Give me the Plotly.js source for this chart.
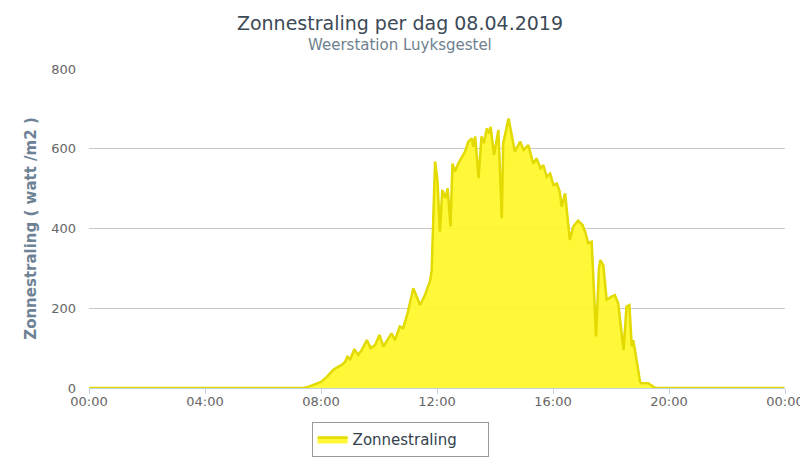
<!DOCTYPE html>
<html>
<head>
<meta charset="utf-8">
<script src="https://cdn.plot.ly/plotly-3.0.1.min.js"></script>
<style>
  body { margin: 0; background: #fff; }
  #plot { width: 800px; height: 475px; }
</style>
</head>
<body>
<div id="plot"></div>
<script>
const day = "2019-04-08"

// Tijdstippen en zonnestraling (watt/m2)
const times = ["00:00", "07:24", "07:36", "07:51", "08:00", "08:12", "08:25", "08:35", "08:43", "08:50",
    "08:55", "09:00", "09:09", "09:17", "09:24", "09:35", "09:43", "09:52", "10:01", "10:09",
    "10:17", "10:26", "10:33", "10:43", "10:50", "10:59", "11:11", "11:25", "11:35", "11:46",
    "11:49", "11:52", "11:56", "12:01", "12:06", "12:11", "12:17", "12:22", "12:28", "12:32",
    "12:37", "12:44", "12:51", "12:58", "13:05", "13:12", "13:15", "13:19", "13:26", "13:32",
    "13:37", "13:43", "13:48", "13:51", "13:58", "14:07", "14:14", "14:17", "14:28", "14:34",
    "14:41", "14:52", "14:59", "15:09", "15:19", "15:26", "15:34", "15:40", "15:47", "15:54",
    "16:01", "16:08", "16:14", "16:18", "16:25", "16:35", "16:42", "16:52", "17:01", "17:07",
    "17:13", "17:20", "17:27", "17:29", "17:35", "17:38", "17:44", "17:51", "18:01", "18:08",
    "18:15", "18:26", "18:32", "18:38", "18:43", "18:46", "18:53", "19:00", "19:03", "19:17",
    "19:28", "19:33", "23:59"]

const radiation = [0, 0, 4, 10, 15, 28, 45, 53, 58, 66,
    80, 70, 97, 83, 95, 120, 100, 108, 133, 104,
    120, 137, 120, 154, 150, 187, 250, 208, 233, 270,
    295, 420, 568, 520, 392, 497, 476, 501, 405, 563,
    543, 563, 580, 593, 618, 626, 605, 631, 526, 631,
    614, 651, 639, 655, 584, 647, 426, 614, 676, 640,
    593, 618, 597, 609, 563, 576, 551, 559, 530, 538,
    509, 513, 492, 455, 488, 371, 405, 420, 409, 390,
    363, 367, 204, 129, 300, 321, 308, 221, 229, 233,
    212, 95, 204, 208, 104, 120, 70, 16, 12, 12,
    3, 0, 0]

const yTicks = [0, 200, 400, 600, 800]

const font_family = '"DejaVu Sans", "Noto Sans", sans-serif'

const x = times.map(t => day + " " + t)

const data = [{
    type: "scatter",
    mode: "lines",
    name: "Zonnestraling",
    x: x,
    y: radiation,
    fill: "tozeroy",
    fillcolor: "rgba(255,247,40,0.92)",
    line: { color: "#e2da00", width: 2.5 },
    hoverinfo: "x+y"
}]

const layout = {
    width: 800,
    height: 475,
    paper_bgcolor: "#ffffff",
    plot_bgcolor: "#ffffff",
    font: { family: font_family, color: "#666666", size: 13 },
    title: {
        text: "Zonnestraling per dag 08.04.2019",
        font: { family: font_family, size: 19, color: "#3d4a57" },
        x: 0.5, xanchor: "center", xref: "container",
        y: 0.951, yanchor: "middle", yref: "container"
    },
    annotations: [{
        text: "Weerstation Luyksgestel",
        xref: "paper", yref: "paper",
        x: 0.447, xanchor: "center",
        y: 1.075, yanchor: "middle",
        showarrow: false,
        font: { family: font_family, size: 15, color: "#6e7f8f" }
    }],
    margin: { l: 89, r: 15, t: 69, b: 87 },
    xaxis: {
        type: "date",
        range: [day + " 00:00", "2019-04-09 00:00"],
        dtick: 4 * 3600 * 1000,
        tickformat: "%H:%M",
        showgrid: false,
        showline: true,
        linecolor: "#c0d0e0",
        linewidth: 1,
        ticks: "outside",
        tickcolor: "#c0d0e0",
        ticklen: 5,
        ticklabelstandoff: -4,
        ticklabeloverflow: "allow",
        tickfont: { size: 13, color: "#666666" },
        zeroline: false
    },
    yaxis: {
        range: [0, 800],
        tickvals: yTicks,
        showgrid: true,
        gridcolor: "#c8c8c8",
        gridwidth: 1,
        zeroline: false,
        showline: false,
        ticks: "",
        ticklabelstandoff: 12,
        tickfont: { size: 13, color: "#666666" },
        title: {
            text: "<b>Zonnestraling ( watt /m2 )</b>",
            font: { family: font_family, size: 15, color: "#6d8294" },
            standoff: 10
        }
    },
    showlegend: true,
    legend: {
        orientation: "h",
        x: 0.447, xanchor: "center",
        y: -0.107, yanchor: "top",
        entrywidth: 130,
        bordercolor: "#999999",
        borderwidth: 1,
        bgcolor: "#ffffff",
        font: { family: font_family, size: 15, color: "#333f4c" }
    }
}

Plotly.newPlot(document.getElementById("plot"), data, layout, { displayModeBar: false, staticPlot: true })
</script>
</body>
</html>
